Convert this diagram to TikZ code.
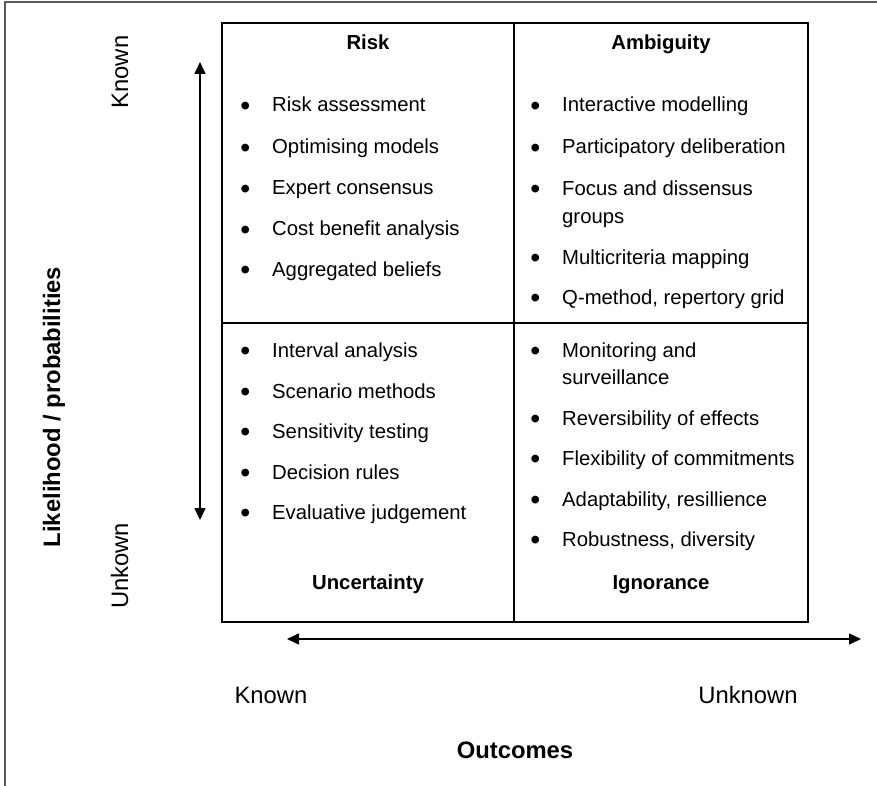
\documentclass[tikz,border=0pt]{standalone}
\usepackage{fontspec}
\setmainfont{Liberation Sans}
\usetikzlibrary{arrows.meta}
% bullet hung to the left of the item text
\newcommand{\bul}{\llap{\raisebox{-3.2pt}{\scalebox{1.4}{\textbullet}}\hspace{22pt}}}

\begin{document}
\begin{tikzpicture}[x=1pt, y=-1pt, >={Triangle[length=12pt, width=11pt]},
    item/.style={anchor=base west, inner sep=0, font=\fontsize{20.3}{27.5}\selectfont},
    title/.style={anchor=base, inner sep=0, font=\fontsize{20.3}{24}\selectfont\bfseries},
    axis/.style={anchor=base, inner sep=0, font=\fontsize{23.8}{28}\selectfont}]
  \useasboundingbox (0, 0) rectangle (877, 786);
  % outer frame, top and left only
  \draw[gray!70!black, line width=1.5pt] (5, 786) -- (5, 2) -- (877, 2);

  % the four cells
  \coordinate (NW) at (222, 23);
  \coordinate (SE) at (808, 622);
  \coordinate (N) at (514, 23);
  \coordinate (S) at (514, 622);
  \coordinate (W) at (222, 323);
  \coordinate (E) at (808, 323);
  \draw[line width=1.2pt] (NW) rectangle (SE);
  \draw[line width=1.2pt] (N) -- (S);
  \draw[line width=1.2pt] (W) -- (E);

  % axes
  \coordinate (ytop) at (200, 62);
  \coordinate (ybot) at (200, 520);
  \coordinate (xleft) at (287, 639);
  \coordinate (xright) at (861, 639);
  \draw[<->, line width=1.6pt] (ytop) -- (ybot);
  \draw[<->, line width=1.6pt] (xleft) -- (xright);

  \node[axis, rotate=90] (yknown) at (128, 72) {Known};
  \node[axis, rotate=90] (yunknown) at (128, 566) {Unkown};
  \node[axis, rotate=90, font=\fontsize{23.8}{28}\selectfont\bfseries] (ylabel) at (60, 407) {Likelihood / probabilities};
  \node[axis] (xknown) at (271, 703) {Known};
  \node[axis] (xunknown) at (748, 703) {Unknown};
  \node[axis, font=\fontsize{23.8}{28}\selectfont\bfseries] (xlabel) at (515, 758) {Outcomes};

  % cell titles
  \node[title] (risk) at (368, 50) {Risk};
  \node[title] (ambiguity) at (661, 50) {Ambiguity};
  \node[title] (uncertainty) at (368, 589) {Uncertainty};
  \node[title] (ignorance) at (661, 589) {Ignorance};

  % risk
  \node[item] (r1) at (272, 112) {\bul Risk assessment};
  \node[item] (r2) at (272, 154) {\bul Optimising models};
  \node[item] (r3) at (272, 195) {\bul Expert consensus};
  \node[item] (r4) at (272, 236) {\bul Cost benefit analysis};
  \node[item] (r5) at (272, 276.5) {\bul Aggregated beliefs};

  % ambiguity
  \node[item] (a1) at (562, 112) {\bul Interactive modelling};
  \node[item] (a2) at (562, 154) {\bul Participatory deliberation};
  \node[item] (a3) at (562, 195.5) {\bul Focus and dissensus};
  \node[item] (a3b) at (562, 223) {groups};
  \node[item] (a4) at (562, 264) {\bul Multicriteria mapping};
  \node[item] (a5) at (562, 304.5) {\bul Q-method, repertory grid};

  % uncertainty
  \node[item] (u1) at (272, 357) {\bul Interval analysis};
  \node[item] (u2) at (272, 398) {\bul Scenario methods};
  \node[item] (u3) at (272, 438.5) {\bul Sensitivity testing};
  \node[item] (u4) at (272, 479) {\bul Decision rules};
  \node[item] (u5) at (272, 519.5) {\bul Evaluative judgement};

  % ignorance
  \node[item] (g1) at (562, 357) {\bul Monitoring and};
  \node[item] (g1b) at (562, 384.5) {surveillance};
  \node[item] (g2) at (562, 425) {\bul Reversibility of effects};
  \node[item] (g3) at (562, 465.5) {\bul Flexibility of commitments};
  \node[item] (g4) at (562, 506) {\bul Adaptability, resillience};
  \node[item] (g5) at (562, 546.5) {\bul Robustness, diversity};
\end{tikzpicture}
\end{document}
